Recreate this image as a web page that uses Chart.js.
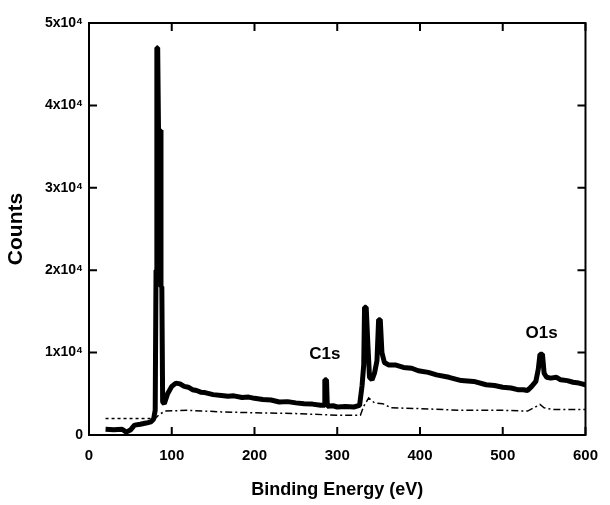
<!DOCTYPE html>
<html>
<head>
<meta charset="utf-8">
<script src="https://cdn.jsdelivr.net/npm/chart.js@4/dist/chart.umd.min.js"></script>
<style>
  html, body { margin: 0; padding: 0; background: #fff; }
  #wrap { width: 610px; height: 505px; }
</style>
</head>
<body>
<div id="wrap"><canvas id="xps"></canvas></div>
<script>
"use strict";

// survey spectrum (thick line)
const energy = [20, 30, 40, 45, 50, 55, 62, 69, 75, 78, 80, 81, 82, 83, 84, 86, 87, 88, 89, 91,
  95, 100, 105, 110, 115, 120, 125, 130, 135, 140, 150, 160, 168, 175, 185, 193, 200, 210, 220, 230, 240, 250, 260, 270, 280, 284, 285, 287, 288,
  295, 300, 310, 320, 327, 330, 332, 333, 335, 337, 339, 342, 345, 348, 350, 352, 354, 357, 362, 370, 380, 390, 398, 410, 420,
  435, 450, 465, 480, 490, 500, 510, 518, 525, 530, 535, 540, 543, 545, 548, 550, 553, 558, 565, 570, 578, 585, 592, 600];
const counts = [700, 650, 700, 350, 600, 1200, 1300, 1450, 1600, 1900, 3000, 20000, 47000, 47000, 37000, 37000, 18000, 18000, 4000, 3800,
  5000, 5900, 6300, 6200, 5900, 5800, 5500, 5400, 5200, 5150, 4900, 4800, 4700, 4750, 4550, 4600, 4450, 4300, 4250, 4000, 4050, 3900, 3800, 3750, 3600, 3600, 6700, 6700, 3500,
  3550, 3400, 3450, 3400, 3600, 6000, 8500, 15500, 15500, 11000, 7000, 6700, 7500, 9000, 14000, 14000, 10000, 8800, 8500, 8500, 8200, 8100, 7800, 7600, 7300,
  7000, 6600, 6500, 6100, 6000, 5800, 5700, 5500, 5500, 5400, 5900, 6500, 8000, 9800, 9800, 7500, 7000, 6900, 7000, 6700, 6600, 6400, 6300, 6100];

// low energy dashed level
const lowEnergy = [20, 78];
const lowCounts = [2000, 2000];

// background (dash-dot)
const bgEnergy = [78, 85, 92, 120, 160, 200, 250, 300, 328, 332, 338, 345, 355, 365, 400, 450, 500, 530, 545, 550, 560, 600];
const bgCounts = [1800, 2500, 2900, 3000, 2800, 2700, 2600, 2400, 2400, 3500, 4500, 3900, 3800, 3300, 3200, 3000, 3000, 2900, 3700, 3300, 3100, 3100];

const xTicks = [0, 100, 200, 300, 400, 500, 600];
const yTicks = [0, 10000, 20000, 30000, 40000, 50000];
const yTickLabels = ["0", "1x10⁴", "2x10⁴", "3x10⁴", "4x10⁴", "5x10⁴"];

const peakLabels = ["C1s", "O1s"];
const peakX = [285, 547];
const peakY = [9750, 12400];

const FONT = "'Liberation Sans', Arial, sans-serif";

const pts = (xs, ys) => xs.map((x, i) => ({ x, y: ys[i] }));

const frame = {
  id: "frame",
  afterDraw(chart) {
    const { ctx, chartArea: a, scales } = chart;
    const x = scales.x, y = scales.y;
    ctx.save();
    ctx.strokeStyle = "#000";
    ctx.lineWidth = 2;
    ctx.strokeRect(a.left, a.top, a.right - a.left, a.bottom - a.top);
    ctx.beginPath();
    xTicks.forEach(v => {
      const px = x.getPixelForValue(v);
      ctx.moveTo(px, a.bottom); ctx.lineTo(px, a.bottom - 8);
      ctx.moveTo(px, a.top); ctx.lineTo(px, a.top + 8);
    });
    yTicks.forEach(v => {
      const py = y.getPixelForValue(v);
      ctx.moveTo(a.left, py); ctx.lineTo(a.left + 8, py);
      ctx.moveTo(a.right, py); ctx.lineTo(a.right - 8, py);
    });
    ctx.stroke();
    ctx.fillStyle = "#000";
    ctx.font = "bold 17px " + FONT;
    ctx.textAlign = "center";
    ctx.textBaseline = "middle";
    peakLabels.forEach((t, i) => {
      ctx.fillText(t, x.getPixelForValue(peakX[i]), y.getPixelForValue(peakY[i]));
    });
    ctx.restore();
  }
};

new Chart(document.getElementById("xps"), {
  type: "scatter",
  data: {
    datasets: [
      {
        data: pts(energy, counts),
        showLine: true,
        borderColor: "#000",
        borderWidth: 5,
        borderJoinStyle: "bevel",
        pointRadius: 0,
        tension: 0
      },
      {
        data: pts(lowEnergy, lowCounts),
        showLine: true,
        borderColor: "#000",
        borderWidth: 1.5,
        borderDash: [3, 3],
        pointRadius: 0
      },
      {
        data: pts(bgEnergy, bgCounts),
        showLine: true,
        borderColor: "#000",
        borderWidth: 1.5,
        borderDash: [7, 3, 2, 3],
        pointRadius: 0
      }
    ]
  },
  options: {
    responsive: true,
    maintainAspectRatio: false,
    animation: false,
    layout: { padding: { top: 23, right: 22, left: 0, bottom: 0 } },
    plugins: { legend: { display: false }, tooltip: { enabled: false } },
    scales: {
      x: {
        type: "linear",
        min: 0, max: 600,
        afterBuildTicks: s => { s.ticks = xTicks.map(v => ({ value: v })); },
        afterFit: s => { s.height = 70; },
        grid: { display: false, drawTicks: false },
        border: { display: false },
        ticks: {
          color: "#000",
          padding: 12,
          font: { family: FONT, size: 15, weight: "bold" }
        },
        title: {
          display: true,
          text: "Binding Energy (eV)",
          color: "#000",
          padding: { top: 10 },
          font: { family: FONT, size: 18, weight: "bold" }
        }
      },
      y: {
        min: 0, max: 50000,
        afterBuildTicks: s => { s.ticks = yTicks.map(v => ({ value: v })); },
        afterFit: s => { s.width = 89; },
        grid: { display: false, drawTicks: false },
        border: { display: false },
        ticks: {
          color: "#000",
          padding: 6,
          font: { family: FONT, size: 14, weight: "bold" },
          callback: v => yTickLabels[yTicks.indexOf(v)]
        },
        title: {
          display: true,
          text: "Counts",
          color: "#000",
          padding: { bottom: 0 },
          font: { family: FONT, size: 21, weight: "bold" }
        }
      }
    }
  },
  plugins: [frame]
});
</script>
</body>
</html>
